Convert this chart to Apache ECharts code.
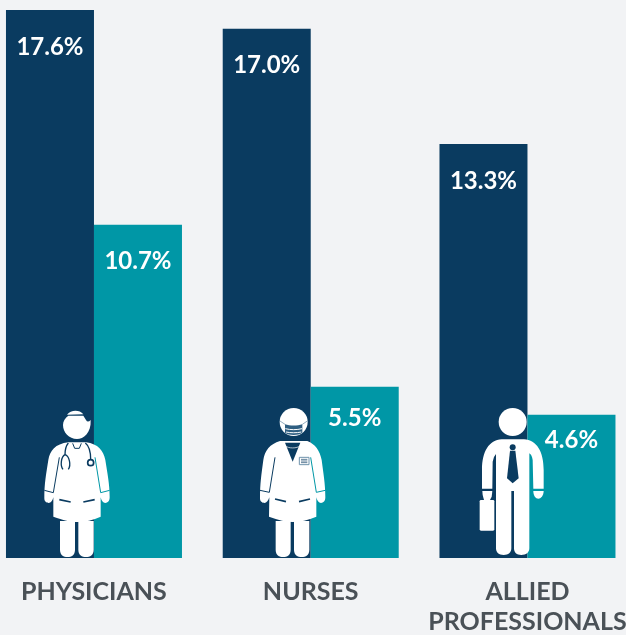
<!DOCTYPE html>
<html>
<head>
<meta charset="utf-8">
<style>
	html, body { margin: 0; padding: 0; background: #f2f3f5; }
	#chart { width: 626px; height: 635px; }
</style>
<script src="https://cdn.jsdelivr.net/npm/echarts@6/dist/echarts.min.js"></script>
</head>
<body>
<div id="chart"></div>
<script>
var categories = ["PHYSICIANS", "NURSES", "ALLIED\nPROFESSIONALS"];
var darkValues = [17.6, 17.0, 13.3];
var tealValues = [10.7, 5.5, 4.6];

var DARK = "#0a3b60";
var TEAL = "#0097a6";
var WHITE = "#ffffff";
var ICON_Z = 10;

//the graphic component has no plain path type, so each outline gets its own shape class
var shapeCount = 0;
function pathShape(d) {
	var name = "iconPath" + (shapeCount++);
	echarts.graphic.registerShape(name, echarts.graphic.extendPath(d, {}));
	return name;
}

function fillPath(d, color) {
	return { type: pathShape(d), z: ICON_Z, style: { fill: color || WHITE } };
}

function linePath(d, color, width) {
	return { type: pathShape(d), z: ICON_Z, style: { fill: "none", stroke: color, lineWidth: width || 5 } };
}

function circle(cx, cy, r, style) {
	return { type: "circle", z: ICON_Z, shape: { cx: cx, cy: cy, r: r }, style: style };
}

//icon shapes are written in the 3x zoom space of the picture, then scaled down
function iconGroup(x, children) {
	return { type: "group", x: x, y: 380, scaleX: 1 / 3, scaleY: 1 / 3, children: children, silent: true };
}

function legs(l1, r1, l2, r2, bottom) {
	var top = 423;
	function leg(l, r) {
		var m = (l + r) / 2;
		return "M" + l + "," + top + " L" + r + "," + top + " L" + r + "," + (bottom - 22) +
			" C" + r + "," + (bottom - 6) + " " + (m + 12) + "," + bottom + " " + m + "," + bottom +
			" C" + (m - 12) + "," + bottom + " " + l + "," + (bottom - 6) + " " + l + "," + (bottom - 22) + " Z";
	}
	return [fillPath(leg(l1, r1)), fillPath(leg(l2, r2))];
}

var doctorIcon = iconGroup(0, [
	fillPath("M205,107 L250,107 L258,120 Q263,129 272,120 C274,160 250,177 231,177 C207,177 189,157 189,135 C189,123 196,113 205,107 Z"),
	fillPath("M201,104 C212,90 238,88 250,103 Z"),
	fillPath("M205,187 C165,192 150,212 145,240 C138,285 133,310 133,355 C133,365 140,369 146,369 C153,369 158,362 160,352 L160,410 C190,420 210,426 231,426 C255,426 280,420 302,410 L302,352 C304,362 309,369 316,369 C323,369 329,363 329,352 C329,310 322,280 316,240 C310,212 295,192 258,187 Z")
].concat(legs(180, 225, 235, 281, 531)).concat([
	linePath("M178,232 L160,338 L133,331", DARK, 3),
	linePath("M285,232 L302,338 L329,331", TEAL, 3),
	linePath("M178,359 L212,366", DARK),
	linePath("M250,366 L284,359", DARK),
	linePath("M205,189 C196,200 195,212 195,224 C183,230 180,258 189,268", DARK, 4),
	linePath("M195,224 C208,228 214,255 205,268", DARK, 4),
	linePath("M256,189 C270,200 272,222 272,238", DARK, 4),
	linePath("M218,190 L224,205 L238,205 L244,190", DARK, 3),
	circle(272, 248, 9, { fill: WHITE, stroke: DARK, lineWidth: 5 })
]));

var nurseIcon = iconGroup(220, [
	circle(221, 126, 42, { fill: WHITE }),
	fillPath("M195,133 C210,138 232,138 247,133 L247,158 C235,167 207,167 195,158 Z", "#2f5f82"),
	linePath("M180,123 L195,133 M247,133 L262,123", "#5c84a0", 2),
	linePath("M196,146 C212,150 230,150 246,146 M198,156 C212,159 230,159 244,156", WHITE, 3),
	fillPath("M180,183 C150,192 134,212 130,240 C124,285 120,310 120,355 C120,365 127,369 133,369 C140,369 145,362 148,352 L147,410 C175,420 198,426 218,426 C240,426 265,420 289,410 L289,352 C291,362 296,369 303,369 C310,369 316,363 316,352 C316,310 310,280 305,240 C300,212 285,192 262,183 Z")
].concat(legs(167, 212, 222, 268, 531)).concat([
	fillPath("M195,188 L241,188 L218,245 Z", DARK),
	linePath("M195,197 C205,206 231,206 241,197", WHITE, 2),
	linePath("M165,232 L148,337 L120,331", DARK, 3),
	linePath("M272,232 L289,337 L316,331", TEAL, 3),
	linePath("M165,357 L198,365", DARK),
	linePath("M237,365 L270,357", DARK),
	{ type: "rect", z: ICON_Z, shape: { x: 238, y: 232, width: 29, height: 22 }, style: { fill: WHITE, stroke: "#6f93ad", lineWidth: 3 } },
	linePath("M243,238 L262,238 M243,243 L262,243 M243,248 L262,248", DARK, 2)
]));

var alliedIcon = iconGroup(420, [
	circle(278, 126, 42, { fill: WHITE }),
	fillPath("M245,178 L312,178 C350,180 371,215 371,270 L371,326 L340,326 L338,240 Q336,225 328,220 L328,505 C328,518 318,525 304,525 C290,525 282,518 282,505 L282,333 L274,333 L274,505 C274,518 265,525 251,525 C237,525 228,518 228,505 L228,222 Q220,230 218,245 L217,326 L186,326 L186,270 C186,215 207,180 245,178 Z"),
	fillPath("M340,333 L371,333 C371,348 362,356 355,356 C347,356 340,348 340,333 Z"),
	fillPath("M187,333 L217,333 L215,350 L210,360 L192,360 L188,345 Z"),
	{ type: "rect", z: ICON_Z, shape: { x: 179, y: 360, width: 44, height: 92, r: 4 }, style: { fill: WHITE } },
	circle(278, 202, 9, { fill: DARK }),
	fillPath("M270,212 L286,212 L296,295 L278,310 L261,295 Z", DARK)
]);

function percent(p) {
	return p.value.toFixed(1) + "%";
}

function valueLabel(distance) {
	return {
		show: true,
		position: "insideTop",
		distance: distance,
		color: WHITE,
		fontFamily: "Lato",
		fontWeight: 700,
		fontSize: 24,
		formatter: percent
	};
}

//the teal labels do not sit at one height in the picture
var tealData = [
	{ value: tealValues[0], label: valueLabel(24) },
	{ value: tealValues[1], label: valueLabel(20) },
	{ value: tealValues[2], label: valueLabel(13) }
];

var option = {
	backgroundColor: "#f2f3f5",
	animation: false,
	grid: { left: -14.4, right: -9.85, top: 10, bottom: 77, outerBoundsMode: "none" },
	xAxis: {
		type: "category",
		data: categories,
		axisLine: { show: false },
		axisTick: { show: false },
		axisLabel: {
			interval: 0,
			margin: 19,
			color: "#4a5157",
			fontFamily: "Lato",
			fontWeight: 700,
			fontSize: 25,
			lineHeight: 30
		}
	},
	yAxis: { type: "value", min: 0, max: 17.6, show: false },
	series: [
		{
			name: "dark",
			type: "bar",
			data: darkValues,
			barWidth: 88,
			barGap: 0,
			itemStyle: { color: DARK },
			label: valueLabel(25)
		},
		{
			name: "teal",
			type: "bar",
			data: tealData,
			barWidth: 88,
			barGap: 0,
			itemStyle: { color: TEAL }
		}
	],
	graphic: { elements: [doctorIcon, nurseIcon, alliedIcon] }
};

var chart = echarts.init(document.getElementById("chart"));
chart.setOption(option);
</script>
</body>
</html>
